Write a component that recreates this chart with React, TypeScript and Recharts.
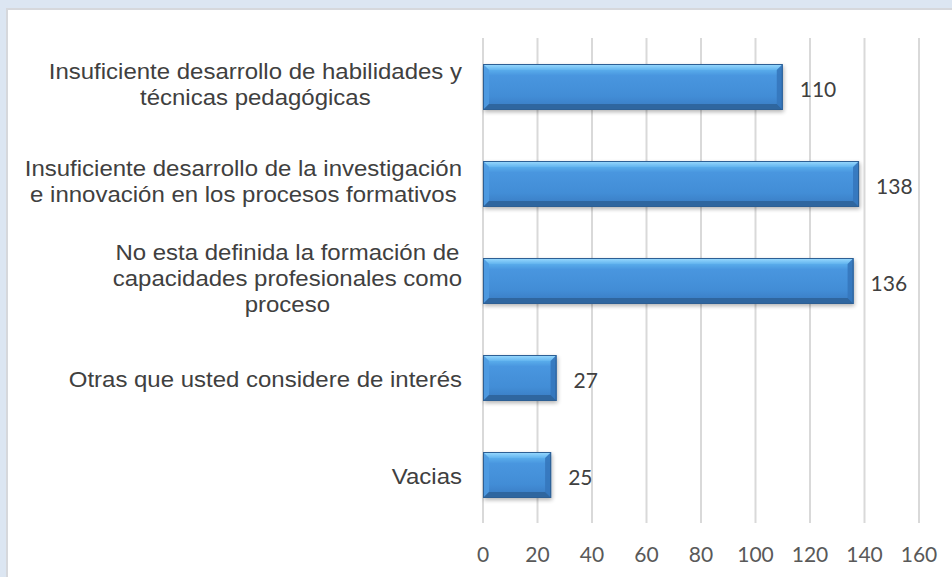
import { BarChart, Bar, XAxis, YAxis, CartesianGrid, LabelList } from "recharts";

const categories = [
  "Insuficiente desarrollo de habilidades y\ntécnicas pedagógicas",
  "Insuficiente desarrollo de la investigación\ne innovación en los procesos formativos",
  "No esta definida la formación de\ncapacidades profesionales como\nproceso",
  "Otras que usted considere de interés",
  "Vacias",
];

const values = [110, 138, 136, 27, 25];

const xTicks = [0, 20, 40, 60, 80, 100, 120, 140, 160];

const data = categories.map((name, i) => ({ name, value: values[i] }));

const LABEL_FONT = "Liberation Sans, Arial, sans-serif";
const NUM_FONT = "Lato, sans-serif";
const CAT_SIZE = 22;
const STRETCH = 1.09; // reference text is a bit wider than plain Arial
const LINE_H = 26;

let ctx: CanvasRenderingContext2D | null = null;
function textWidth(s: string): number {
  if (!ctx) ctx = document.createElement("canvas").getContext("2d");
  if (!ctx) return s.length * CAT_SIZE * 0.5;
  ctx.font = `${CAT_SIZE}px "Liberation Sans"`;
  return ctx.measureText(s).width * STRETCH;
}

function CategoryTick(props: any) {
  const { x, y, payload } = props;
  const lines: string[] = String(payload.value).split("\n");
  const widths = lines.map(textWidth);
  const maxW = Math.max(...widths);
  const right = x - 21;
  const cx = right - maxW / 2;
  const shift = lines.length > 1 ? -2 : 2;
  const top = y + shift - ((lines.length - 1) * LINE_H) / 2;
  return (
    <g>
      {lines.map((l, i) => (
        <text
          key={i}
          x={cx}
          y={top + i * LINE_H}
          textAnchor="middle"
          dominantBaseline="central"
          fontFamily={LABEL_FONT}
          fontSize={CAT_SIZE}
          textLength={widths[i]}
          lengthAdjust="spacingAndGlyphs"
          fill="#404040"
        >
          {l}
        </text>
      ))}
    </g>
  );
}

function ValueTick(props: any) {
  const { x, y, payload } = props;
  return (
    <text
      x={x}
      y={y + 30}
      textAnchor="middle"
      dominantBaseline="central"
      fontFamily={NUM_FONT}
      fontSize={21}
      fill="#595959"
    >
      {payload.value}
    </text>
  );
}

function BevelBar(props: any) {
  const { x, y, width, height } = props;
  if (!width || width <= 0) return null;
  const b = 6;
  const r = x + width;
  const bt = y + height;
  return (
    <g>
      <rect x={x + 1} y={y + 2} width={width} height={height} fill="#000" opacity={0.3} filter="url(#barShadow)" />
      <rect x={x} y={y} width={width} height={height} fill="url(#barBody)" />
      <polygon points={`${x},${y} ${r},${y} ${r - b},${y + b} ${x + b},${y + b}`} fill="url(#barTop)" />
      <polygon points={`${x},${y} ${x + b},${y + b} ${x + b},${bt - b} ${x},${bt}`} fill="#4f9be2" opacity={0.85} />
      <polygon points={`${r},${y} ${r},${bt} ${r - b},${bt - b} ${r - b},${y + b}`} fill="#3577bd" opacity={0.9} />
      <polygon points={`${x},${bt} ${r},${bt} ${r - b},${bt - b} ${x + b},${bt - b}`} fill="#2f669f" />
      <rect x={x + 0.5} y={y + 0.5} width={width - 1} height={height - 1} fill="none" stroke="#2d5f94" strokeWidth={1} />
    </g>
  );
}

function ValueLabel(props: any) {
  const { x, y, width, height, value } = props;
  return (
    <text
      x={x + width + 17}
      y={y + height / 2 + 1}
      dominantBaseline="central"
      fontFamily={NUM_FONT}
      fontSize={21}
      fill="#404040"
    >
      {value}
    </text>
  );
}

export default function App() {
  return (
    <div style={{ position: "absolute", left: 0, top: 0, width: 952, height: 577, background: "#dce6f2", overflow: "hidden" }}>
      <div
        style={{
          position: "absolute",
          left: 6,
          top: 8,
          right: 0,
          bottom: 0,
          background: "#fff",
          borderTop: "2px solid #d6d8dc",
          borderLeft: "2px solid #d6d8dc",
        }}
      />
      <div style={{ position: "absolute", left: 0, top: 0 }}>
        <BarChart
          width={952}
          height={577}
          data={data}
          layout="vertical"
          margin={{ top: 38, right: 33, bottom: 0, left: 0 }}
          barSize={46}
        >
          <defs>
            <linearGradient id="barBody" x1="0" y1="0" x2="0" y2="1">
              <stop offset="0%" stopColor="#8fd2fb" />
              <stop offset="12%" stopColor="#5aaeec" />
              <stop offset="25%" stopColor="#4996df" />
              <stop offset="70%" stopColor="#428dd6" />
              <stop offset="100%" stopColor="#3879c0" />
            </linearGradient>
            <linearGradient id="barTop" x1="0" y1="0" x2="0" y2="1">
              <stop offset="0%" stopColor="#9ddcff" />
              <stop offset="100%" stopColor="#62b4ef" />
            </linearGradient>
            <filter id="barShadow" x="-10%" y="-20%" width="120%" height="150%">
              <feGaussianBlur stdDeviation="2" />
            </filter>
          </defs>
          <CartesianGrid horizontal={false} stroke="#d9d9d9" strokeWidth={2} />
          <XAxis
            type="number"
            domain={[0, 160]}
            ticks={xTicks}
            axisLine={false}
            tickLine={false}
            tickSize={0}
            tickMargin={0}
            height={54}
            tick={<ValueTick />}
            interval={0}
          />
          <YAxis
            type="category"
            dataKey="name"
            width={483}
            axisLine={false}
            tickLine={false}
            tickSize={0}
            tickMargin={0}
            tick={<CategoryTick />}
            interval={0}
          />
          <Bar dataKey="value" shape={<BevelBar />} isAnimationActive={false}>
            <LabelList dataKey="value" content={<ValueLabel />} />
          </Bar>
        </BarChart>
      </div>
    </div>
  );
}
